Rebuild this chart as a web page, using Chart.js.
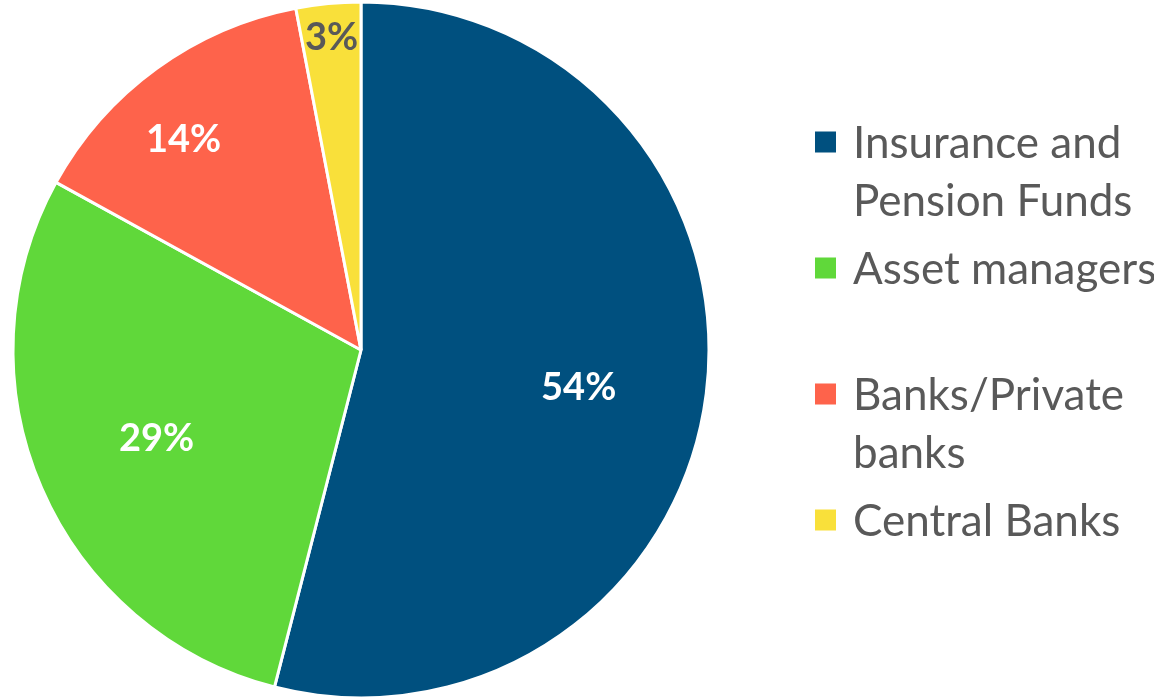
<!DOCTYPE html>
<html>
<head>
<meta charset="utf-8">
<script src="https://cdn.jsdelivr.net/npm/chart.js@4/dist/chart.umd.min.js"></script>
<style>
  html, body { margin: 0; padding: 0; background: #ffffff; overflow: hidden; }
  #wrap { width: 1154px; height: 697px; position: relative; }
</style>
</head>
<body>
<div id="wrap"><canvas id="pie"></canvas></div>
<script>
// Chart data
const categories = [
    ['Insurance and', 'Pension Funds'],
    ['Asset managers'],
    ['Banks/Private', 'banks'],
    ['Central Banks']
];
const shares = [54, 29, 14, 3];
const sliceColors = ['#00507f', '#60d83a', '#fe634b', '#f9e03a'];

// Label look (Excel "best fit" places them at different spots)
const labelColors = ['#ffffff', '#ffffff', '#ffffff', '#595959'];
const labelDepth = [0.635, 0.64, 0.79, 0.90];
const labelTurn = [2.7, 0, -4.2, 0]; // degrees off the slice middle

/**
 * Draws the percentage labels inside each slice
 */
const sliceLabels = {
    id: 'sliceLabels',
    afterDatasetsDraw(chart) {
        const ctx = chart.ctx;
        const meta = chart.getDatasetMeta(0);
        const total = shares.reduce((a, b) => a + b, 0);
        ctx.save();
        ctx.font = 'bold 38px Lato, "Open Sans", sans-serif';
        ctx.textAlign = 'center';
        ctx.textBaseline = 'middle';
        meta.data.forEach((arc, i) => {
            const p = arc.getProps(['x', 'y', 'startAngle', 'endAngle', 'outerRadius'], true);
            const mid = (p.startAngle + p.endAngle) / 2 + labelTurn[i] * Math.PI / 180;
            const r = p.outerRadius * labelDepth[i];
            ctx.fillStyle = labelColors[i];
            ctx.fillText(Math.round(shares[i] / total * 100) + '%',
                p.x + Math.cos(mid) * r, p.y + Math.sin(mid) * r);
        });
        ctx.restore();
    }
};

/**
 * Draws the legend on the right, with wrapped entries like the original
 */
const sideLegend = {
    id: 'sideLegend',
    afterDraw(chart) {
        const ctx = chart.ctx;
        const left = 815, box = 21, textX = 853;
        const firstY = 142, entryStep = 126, lineStep = 58;
        ctx.save();
        ctx.font = '44px Lato, "Open Sans", sans-serif';
        ctx.textBaseline = 'middle';
        categories.forEach((lines, i) => {
            const y = firstY + i * entryStep;
            ctx.fillStyle = sliceColors[i];
            ctx.fillRect(left, y - box / 2, box, box);
            ctx.fillStyle = '#595959';
            lines.forEach((line, j) => ctx.fillText(line, textX, y + 2 + j * lineStep));
        });
        ctx.restore();
    }
};

const canvas = document.getElementById('pie');
canvas.width = 1154;
canvas.height = 697;

new Chart(canvas.getContext('2d'), {
    type: 'pie',
    data: {
        labels: categories.map(l => l.join(' ')),
        datasets: [{
            data: shares,
            backgroundColor: sliceColors,
            borderColor: '#ffffff',
            borderWidth: 3,
            hoverOffset: 0,
            radius: 348
        }]
    },
    options: {
        responsive: false,
        animation: false,
        layout: { padding: { left: 14, top: 3, right: 446, bottom: 0 } },
        plugins: {
            legend: { display: false },
            tooltip: { enabled: false }
        }
    },
    plugins: [sliceLabels, sideLegend]
});
</script>
</body>
</html>
